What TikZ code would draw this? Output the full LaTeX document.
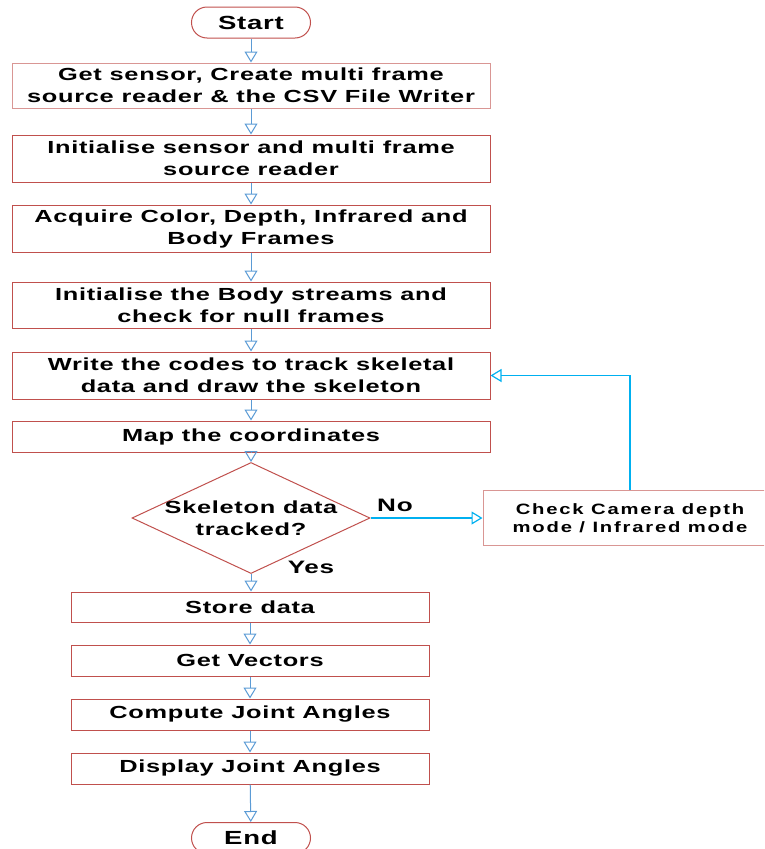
\documentclass[tikz,border=0pt]{standalone}
\usepackage{fontspec}
\setmainfont{Liberation Sans}
% wide bold faces used for the labels
\newfontfamily\wf[FakeStretch=1.45,LetterSpace=4]{Liberation Sans Bold}
\newfontfamily\wfs[FakeStretch=1.35,LetterSpace=12]{Liberation Sans Bold}
\usetikzlibrary{arrows.meta,shapes.geometric,calc}
\definecolor{boxred}{HTML}{C0504D}
\definecolor{boxpink}{HTML}{D99694}
\definecolor{flowblue}{HTML}{5B9BD5}
\definecolor{loopcyan}{HTML}{00B0F0}
\begin{document}
\begin{tikzpicture}[x=1pt,y=-1pt,
  stepbox/.style={draw=boxred, line width=1pt, inner sep=0pt, font=\wf\fontsize{17.5}{22}\selectfont, align=center},
  terminal/.style={draw=boxred, line width=1pt, rounded corners=15.5pt, minimum width=119pt, minimum height=31pt, inner sep=0pt, font=\wf\fontsize{19}{22}\selectfont},
  flow/.style={draw=flowblue, line width=1pt, -{Triangle[open, length=11pt, width=13pt]}},
  loop/.style={draw=loopcyan, line width=1.2pt, -{Triangle[open, length=11pt, width=13pt]}},
  lbl/.style={font=\wf\fontsize{18}{20}\selectfont}
]
\useasboundingbox (0,0) rectangle (764,849);
\clip (0,0) rectangle (764,849);

% terminals
\node[terminal] (start) at (251,22.5) {Start};
\node[terminal] (end) at (251,838) {End};

% main processing steps
\node[stepbox, minimum width=478pt, minimum height=45pt, draw=boxpink] (s1) at (251,85.5) {Get sensor, Create multi frame\\source reader \& the CSV File Writer};
\node[stepbox, minimum width=478pt, minimum height=47pt] (s2) at (251,158.5) {Initialise sensor and multi frame\\source reader};
\node[stepbox, minimum width=478pt, minimum height=47pt] (s3) at (251,228.5) {Acquire Color, Depth, Infrared and\\Body Frames};
\node[stepbox, minimum width=478pt, minimum height=46pt] (s4) at (251,305) {Initialise the Body streams and\\check for null frames};
\node[stepbox, minimum width=478pt, minimum height=47pt] (s5) at (251,375.5) {Write the codes to track skeletal\\data and draw the skeleton};
\node[stepbox, minimum width=478pt, minimum height=31pt] (s6) at (251,436.5) {Map the coordinates};

% decision
\node[draw=boxred, line width=1pt, diamond, aspect=2.144, minimum width=238pt, minimum height=111pt, inner sep=0pt] (dec) at (251,518) {};
\node[font=\wf\fontsize{17.5}{22}\selectfont, align=center] (dectext) at (251,518) {Skeleton data\\tracked?};

% camera check
\node[draw=boxpink, line width=1pt, minimum width=292pt, minimum height=55pt, inner sep=0pt] (chk) at (629,518) {};
\node[font=\wfs\fontsize{15}{18}\selectfont, align=center] (chktext) at (630,518) {Check Camera depth\\mode / Infrared mode};

% output steps
\node[stepbox, minimum width=358pt, minimum height=30pt] (o1) at (250,607) {Store data};
\node[stepbox, minimum width=358pt, minimum height=31pt] (o2) at (250,660.5) {Get Vectors};
\node[stepbox, minimum width=358pt, minimum height=31pt] (o3) at (250,714.5) {Compute Joint Angles};
\node[stepbox, minimum width=358pt, minimum height=31pt] (o4) at (250,768.5) {Display Joint Angles};

% connectors
\draw[flow] (start) -- (s1);
\draw[flow] (s1) -- (s2);
\draw[flow] (s2) -- (s3);
\draw[flow] (s3) -- (s4);
\draw[flow] (s4) -- (s5);
\draw[flow] (s5) -- (s6);
\draw[flow] (s6.south -| dec.north) -- (dec.north);
\draw[flow] (dec.south) -- (o1.north -| dec.south);
\draw[flow] (o1) -- (o2);
\draw[flow] (o2) -- (o3);
\draw[flow] (o3) -- (o4);
\draw[flow] (o4) -- (end);
\draw[loop] (dec.east) -- (chk.west);
\coordinate (up) at (630,375.5);
\draw[loop] (chk.north -| up) -- (up) -- (s5.east);

% branch labels
\node[lbl] (no) at (395,505) {No};
\node[lbl] (yes) at (311,567) {Yes};
\end{tikzpicture}
\end{document}
